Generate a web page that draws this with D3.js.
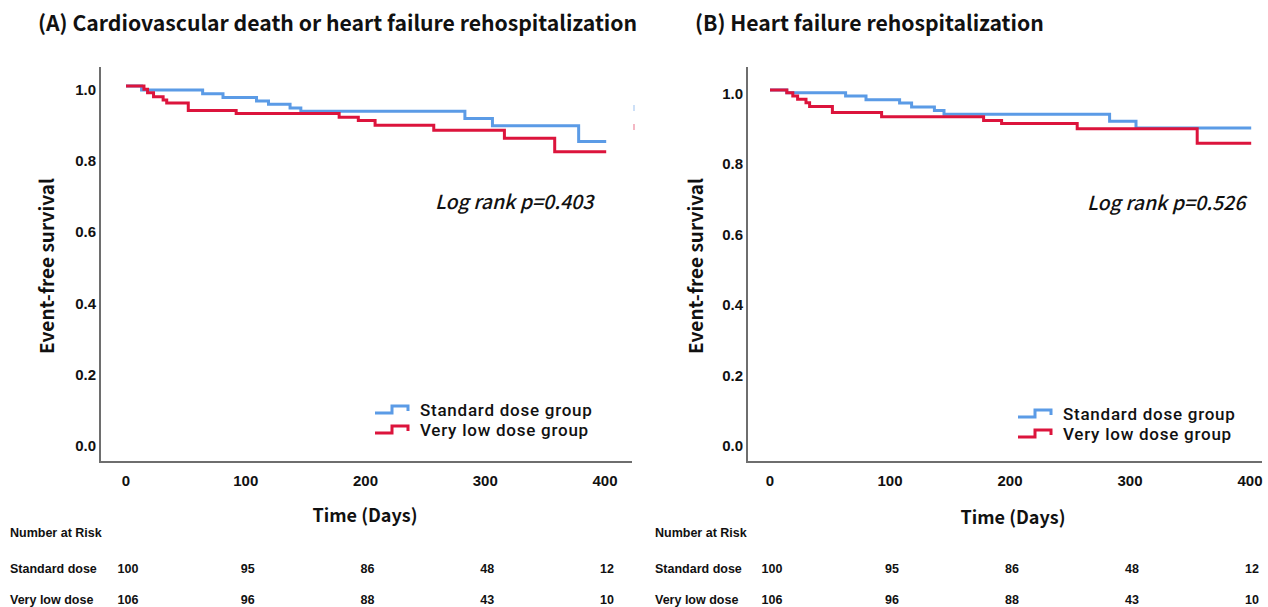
<!DOCTYPE html>
<html>
<head>
<meta charset="utf-8">
<script src="https://cdn.jsdelivr.net/npm/d3@7"></script>
<style>
  body { margin: 0; background: #fff; }
  svg { display: block; }
  .title { font-family: "Noto Sans CJK KR", "Noto Sans", sans-serif; font-weight: 700; font-size: 21.2px; fill: #111; }
  .axisTitle { font-family: "Noto Sans CJK KR", "Noto Sans", sans-serif; font-weight: 700; font-size: 18px; fill: #111; }
  .ytitle { font-size: 19px; }
  .tick { font-family: "Liberation Sans", Arial, sans-serif; font-weight: 700; font-size: 15px; fill: #111; }
  .legend { font-family: Roboto, "Noto Sans", sans-serif; font-weight: 500; font-size: 17px; letter-spacing: 0.75px; fill: #111; }
  .logrank { font-family: "Noto Sans CJK KR", "Noto Sans", sans-serif; font-style: italic; font-weight: 500; font-size: 19.5px; fill: #111; }
  .risk { font-family: "Liberation Sans", Arial, sans-serif; font-weight: 700; font-size: 12.5px; fill: #111; }
</style>
</head>
<body>
<div class="graph"></div>
<script>
// tick values
const xTicks = [0, 100, 200, 300, 400];
const yTicks = [0, 0.2, 0.4, 0.6, 0.8, 1.0];

// group names / number at risk
const groups = ["Standard dose group", "Very low dose group"];
const riskRows = ["Standard dose", "Very low dose"];
const riskStandard = [100, 95, 86, 48, 12];
const riskVeryLow = [106, 96, 88, 43, 10];

// (A) CV death or HF rehospitalization
const aStdTime = [0, 13, 64, 81, 109, 119, 137, 146, 283, 306, 378, 401];
const aStdSurv = [1.0, 0.989, 0.978, 0.968, 0.958, 0.949, 0.938, 0.929, 0.909, 0.888, 0.844, 0.844];
const aLowTime = [0, 15, 18, 23, 31, 34, 52, 92, 178, 194, 208, 257, 316, 358, 401];
const aLowSurv = [1.0, 0.991, 0.981, 0.970, 0.961, 0.952, 0.931, 0.923, 0.912, 0.903, 0.890, 0.876, 0.853, 0.815, 0.815];

// (B) HF rehospitalization
const bStdTime = [0, 14, 63, 80, 108, 118, 137, 145, 283, 305, 401];
const bStdSurv = [1.0, 0.992, 0.983, 0.972, 0.963, 0.952, 0.942, 0.931, 0.911, 0.892, 0.892];
const bLowTime = [0, 14, 19, 23, 30, 33, 52, 93, 178, 193, 256, 356, 401];
const bLowSurv = [1.0, 0.992, 0.983, 0.974, 0.964, 0.953, 0.936, 0.924, 0.913, 0.905, 0.890, 0.849, 0.849];

const blueColour = "#5b9be6";
const redColour = "#dc143c";

const svg = d3.select(".graph")
    .append("svg")
    .attr("width", 1268)
    .attr("height", 607);

const panels = [
    {
        title: "(A) Cardiovascular death or heart failure rehospitalization", titleX: 38,
        left: 100, right: 632, top: 67, bottom: 462,
        x0: 126, x1: 605, y1: 86, y0: 442,
        std: [aStdTime, aStdSurv], low: [aLowTime, aLowSurv],
        logrank: "Log rank p=0.403", lrX: 435, lrY: 209,
        legX: 375, legY: 410, ytX: 48, xtX: 365, xtY: 522, riskX: 10
    },
    {
        title: "(B) Heart failure rehospitalization", titleX: 695,
        left: 747, right: 1262, top: 67, bottom: 462,
        x0: 770, x1: 1250, y1: 90, y0: 442,
        std: [bStdTime, bStdSurv], low: [bLowTime, bLowSurv],
        logrank: "Log rank p=0.526", lrX: 1087, lrY: 210,
        legX: 1018, legY: 414, ytX: 697, xtX: 1013, xtY: 524, riskX: 655
    }
];

panels.forEach(function(p) {
    const x = d3.scaleLinear().domain([0, 400]).range([p.x0, p.x1]);
    const y = d3.scaleLinear().domain([0, 1]).range([p.y0, p.y1]);
    const g = svg.append("g");

    g.append("text").attr("class", "title")
        .attr("x", p.titleX).attr("y", 31)
        .text(p.title);

    // axis frame (left + bottom)
    g.append("path")
        .attr("d", "M" + p.left + "," + p.top + "V" + p.bottom + "H" + p.right)
        .attr("fill", "none")
        .attr("stroke", "#6e6e6e")
        .attr("stroke-width", 2);

    // y tick labels
    g.selectAll(".ytick").data(yTicks).enter()
        .append("text").attr("class", "tick")
        .attr("text-anchor", "end")
        .attr("x", p.left - 4)
        .attr("y", d => y(d) + 9)
        .text(d => d3.format(".1f")(d));

    // x tick labels
    g.selectAll(".xtick").data(xTicks).enter()
        .append("text").attr("class", "tick")
        .attr("text-anchor", "middle")
        .attr("x", d => x(d))
        .attr("y", 486)
        .text(d => d);

    g.append("text").attr("class", "axisTitle ytitle")
        .attr("text-anchor", "middle")
        .attr("transform", "translate(" + (p.ytX + 6) + ",266) rotate(-90)")
        .text("Event-free survival");

    g.append("text").attr("class", "axisTitle")
        .attr("text-anchor", "middle")
        .attr("x", p.xtX)
        .attr("y", p.xtY)
        .text("Time (Days)");

    // KM step curves
    const line = d3.line()
        .x(d => x(d[0]))
        .y(d => y(d[1]))
        .curve(d3.curveStepAfter);

    [[p.std, blueColour], [p.low, redColour]].forEach(function(s) {
        const pts = d3.zip(s[0][0], s[0][1]);
        g.append("path")
            .attr("d", line(pts))
            .attr("fill", "none")
            .attr("stroke", s[1])
            .attr("stroke-width", 3);
    });

    g.append("text").attr("class", "logrank")
        .attr("x", p.lrX).attr("y", p.lrY)
        .text(p.logrank);

    // legend
    [blueColour, redColour].forEach(function(c, i) {
        const ly = p.legY + i * 20;
        const lx = p.legX;
        g.append("path")
            .attr("d", "M" + lx + "," + (ly + 3) + "H" + (lx + 17) + "V" + (ly - 4) + "H" + (lx + 33) + "V" + (ly + 1))
            .attr("fill", "none")
            .attr("stroke", c)
            .attr("stroke-width", 3);
        g.append("text").attr("class", "legend")
            .attr("x", lx + 45).attr("y", ly + 6)
            .text(groups[i]);
    });

    // number at risk
    g.append("text").attr("class", "risk")
        .attr("x", p.riskX).attr("y", 537)
        .text("Number at Risk");
    [riskStandard, riskVeryLow].forEach(function(row, i) {
        const ry = 573 + i * 31;
        g.append("text").attr("class", "risk")
            .attr("x", p.riskX).attr("y", ry)
            .text(riskRows[i]);
        g.selectAll(".r" + i).data(row).enter()
            .append("text").attr("class", "risk")
            .attr("text-anchor", "middle")
            .attr("x", (d, j) => x(xTicks[j]) + 2)
            .attr("y", ry)
            .text(d => d);
    });
});

// tiny stray legend marks at right of panel A
svg.append("line").attr("x1", 634).attr("x2", 634).attr("y1", 105).attr("y2", 111)
    .attr("stroke", blueColour).attr("stroke-width", 1).attr("opacity", 0.6);
svg.append("line").attr("x1", 634).attr("x2", 634).attr("y1", 124).attr("y2", 130)
    .attr("stroke", redColour).attr("stroke-width", 1).attr("opacity", 0.6);
</script>
</body>
</html>
